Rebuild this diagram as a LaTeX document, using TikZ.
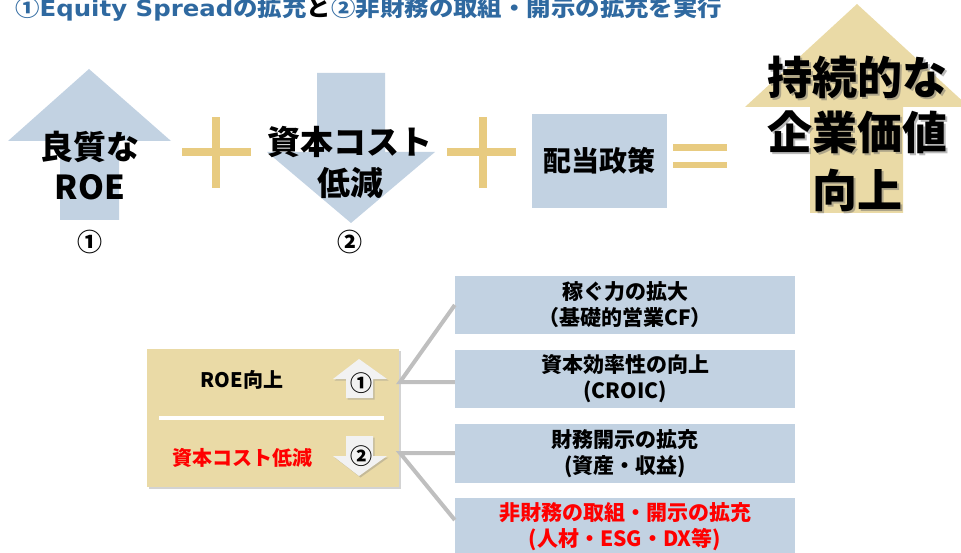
\documentclass[tikz,border=0pt]{standalone}
\usepackage{fontspec}
\setmainfont{Noto Sans CJK JP}
\newfontfamily\latinfont{DejaVu Sans}
\usetikzlibrary{shadows,calc}
\definecolor{ablue}{RGB}{194,210,226}
\definecolor{pgold}{RGB}{232,203,128}
\definecolor{agold}{RGB}{234,218,166}
\definecolor{tblue}{RGB}{47,105,160}
\definecolor{cgray}{RGB}{191,191,191}
\definecolor{lgray}{RGB}{242,242,242}
\tikzset{
  fs/.style={font=\fontsize{#1}{#1}\selectfont\bfseries},
  bigtxt/.style={inner sep=0pt, fs=33},
  rbox/.style={fill=ablue, minimum width=340pt, inner sep=0pt, align=center,
    font=\fontsize{21}{26}\selectfont\bfseries},
  conn/.style={draw=cgray, line width=4pt},
  smallarrow/.style={fill=lgray, drop shadow={shadow xshift=1.5pt, shadow yshift=-1.5pt, opacity=0.35}},
}
\begin{document}
\begin{tikzpicture}[x=1pt,y=-1pt]
\useasboundingbox (0,0) rectangle (961,553);
% title
\node[anchor=base west, inner sep=0pt, text=tblue] (title) at (15,17)
  {\resizebox{707pt}{19pt}{\bfseries ①\latinfont Equity Spread\normalfont\bfseries の拡充\textcolor{black}{と}②非財務の取組・開示の拡充を実行}};
% arrow 1
\fill[ablue] (89,69) -- (171,141) -- (119,141) -- (119,220) -- (60,220) -- (60,141) -- (8,141) -- cycle;
\node[bigtxt] (a1) at (90,147) {良質な};
\node[bigtxt] (a2) at (90,187) {ROE};
\node[fs=25, inner sep=0pt] (n1) at (90,242) {①};
% plus 1
\fill[pgold] (212,117) rectangle (220,188);
\fill[pgold] (182,148) rectangle (251,156);
% arrow 2
\fill[ablue] (317,73) -- (385,73) -- (385,152) -- (435,152) -- (351,223) -- (267,152) -- (317,152) -- cycle;
\node[bigtxt] (b1) at (350,142) {資本コスト};
\node[bigtxt] (b2) at (350,183) {低減};
\node[fs=25, inner sep=0pt] (n2) at (350,242) {②};
% plus 2
\fill[pgold] (479,117) rectangle (487,188);
\fill[pgold] (447,148) rectangle (516,156);
% dividend box
\node[fill=ablue, minimum width=135pt, minimum height=94pt, inner sep=0pt, fs=28] (div) at (599.5,161) {配当政策};
% equals
\fill[pgold] (673,144) rectangle (727,151);
\fill[pgold] (673,162) rectangle (727,168);
% big arrow
\fill[agold] (857,4) -- (969,107) -- (903,107) -- (903,213) -- (810,213) -- (810,107) -- (745,107) -- cycle;
\foreach \t/\yy in {持続的な/77, 企業価値/132, 向上/190}{
  \node[fs=45, inner sep=0pt, text=black!60, opacity=0.45] at (859.5,\yy+2.5) {\t};
}
\node[fs=45, inner sep=0pt] (c1) at (857,77) {持続的な};
\node[fs=45, inner sep=0pt] (c2) at (857,132) {企業価値};
\node[fs=45, inner sep=0pt] (c3) at (857,190) {向上};
% bottom gold box
\node[fill=agold, minimum width=252pt, minimum height=138pt, inner sep=0pt,
  drop shadow={shadow xshift=2pt, shadow yshift=-2pt, opacity=0.35}] (gbox) at (273,418) {};
\draw[white, line width=4pt] (159,418) -- (384,418);
\node[fs=20, inner sep=0pt] (roe) at (242,380) {ROE向上};
\node[fs=20, inner sep=0pt, text=red] (cost) at (242,458) {資本コスト低減};
\path[smallarrow] (359,359) -- (387,379) -- (373,379) -- (373,398) -- (346,398) -- (346,379) -- (333,379) -- cycle;
\node[fs=22, inner sep=0pt] (s1) at (361,383) {①};
\path[smallarrow] (346,436) -- (373,436) -- (373,456) -- (387,456) -- (359,476) -- (333,456) -- (346,456) -- cycle;
\node[fs=22, inner sep=0pt] (s2) at (361,456) {②};
% right boxes
\node[rbox, minimum height=58pt] (r1) at (625,305) {稼ぐ力の拡大\\（基礎的営業CF）};
\node[rbox, minimum height=58pt] (r2) at (625,379) {資本効率性の向上\\(CROIC)};
\node[rbox, minimum height=59pt] (r3) at (625,453.5) {財務開示の拡充\\(資産・収益)};
\node[rbox, minimum height=59pt, text=red] (r4) at (625,527) {非財務の取組・開示の拡充\\(人材・ESG・DX等)};
% connectors
\coordinate (j1) at (400,382);
\coordinate (j2) at (400,453);
\draw[conn] (r1.west) -- (j1) -- (j1 -| r2.west);
\draw[conn] ($(r4.west)+(0,-7)$) -- (j2) -- (j2 -| r3.west);
\end{tikzpicture}
\end{document}
